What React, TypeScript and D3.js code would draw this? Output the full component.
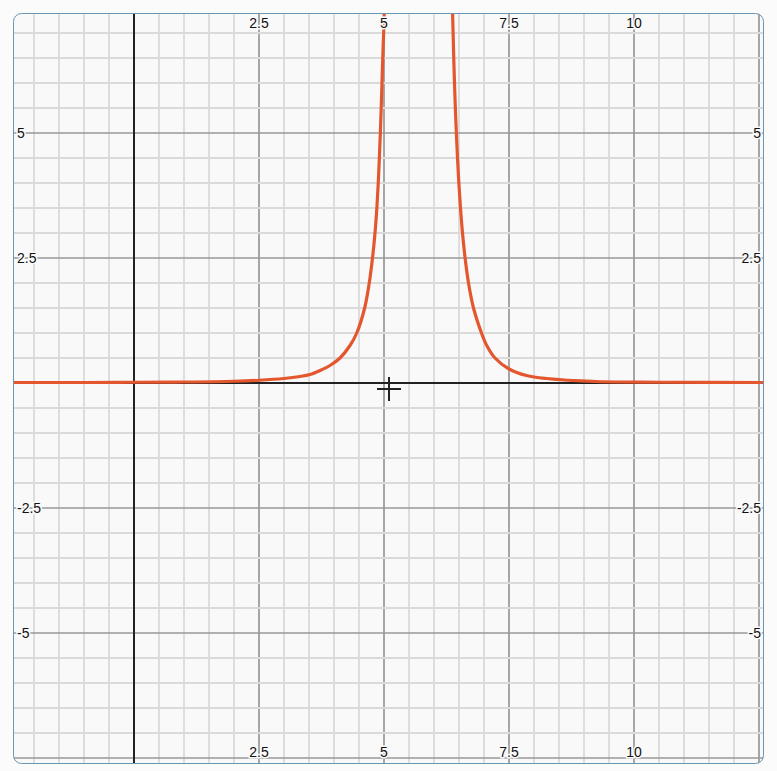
import React, { useEffect, useRef } from "react";
import * as d3 from "d3";

// curve points, left and right of the asymptote
const leftX = [-2.45, -1, 0, 1, 2, 2.5, 3.0, 3.32, 3.52, 3.72, 3.92, 4.12, 4.32, 4.455, 4.613, 4.705, 4.77, 4.82, 4.857, 4.885, 4.907, 4.927, 4.944, 4.96, 4.975, 4.993, 5.005, 5.02];
const leftY = [0.01, 0.01, 0.015, 0.02, 0.035, 0.055, 0.09, 0.13, 0.17, 0.25, 0.35, 0.5, 0.75, 1.0, 1.5, 2.0, 2.5, 3.0, 3.5, 4.0, 4.5, 5.0, 5.5, 6.0, 6.5, 7.0, 7.4, 8.0];
const rightX = [6.36, 6.372, 6.382, 6.395, 6.41, 6.427, 6.447, 6.47, 6.497, 6.53, 6.57, 6.622, 6.69, 6.79, 6.95, 7.055, 7.22, 7.5, 7.85, 8.25, 9.25, 10.5, 12.65];
const rightY = [8.0, 7.4, 7.0, 6.5, 6.0, 5.5, 5.0, 4.5, 4.0, 3.5, 3.0, 2.5, 2.0, 1.5, 1.0, 0.75, 0.5, 0.28, 0.15, 0.09, 0.03, 0.015, 0.01];

const xTicks = [2.5, 5, 7.5, 10];
const yTicks = [5, 2.5, -2.5, -5];
const cursor = [5.1, -0.12];

const W = 777;
const H = 771;
const box = { left: 13.5, top: 13.5, right: 763.5, bottom: 763.5 };

const App = () => {
  const ref = useRef<SVGSVGElement>(null);

  useEffect(() => {
    const svg = d3.select(ref.current);
    svg.selectAll("*").remove();

    const x = d3.scaleLinear().domain([0, 10]).range([134, 634]);
    const y = d3.scaleLinear().domain([0, 5]).range([383, 133]);
    const [x0, x1] = [x.invert(box.left), x.invert(box.right)];
    const [y0, y1] = [y.invert(box.bottom), y.invert(box.top)];

    svg.append("rect").attr("width", W).attr("height", H).attr("fill", "#fbfbfb");

    const defs = svg.append("defs");
    defs
      .append("clipPath")
      .attr("id", "plot")
      .append("rect")
      .attr("x", box.left)
      .attr("y", box.top)
      .attr("width", box.right - box.left)
      .attr("height", box.bottom - box.top)
      .attr("rx", 8);

    const g = svg.append("g").attr("clip-path", "url(#plot)");
    g.append("rect")
      .attr("x", box.left)
      .attr("y", box.top)
      .attr("width", box.right - box.left)
      .attr("height", box.bottom - box.top)
      .attr("fill", "#f9f9f9");

    // grid, every 0.5 with darker lines every 2.5
    const minorX = d3.range(Math.ceil(x0 * 2) / 2, x1, 0.5);
    const minorY = d3.range(Math.ceil(y0 * 2) / 2, y1, 0.5);
    const major = (d) => d % 2.5 === 0;
    g.selectAll(".mx")
      .data(minorX)
      .enter()
      .append("line")
      .attr("x1", (d) => x(d))
      .attr("x2", (d) => x(d))
      .attr("y1", box.top)
      .attr("y2", box.bottom)
      .attr("stroke", (d) => (major(d) ? "#989898" : "#dadada"))
      .attr("stroke-width", (d) => (major(d) ? 1.7 : 1.8));
    g.selectAll(".my")
      .data(minorY)
      .enter()
      .append("line")
      .attr("y1", (d) => y(d))
      .attr("y2", (d) => y(d))
      .attr("x1", box.left)
      .attr("x2", box.right)
      .attr("stroke", (d) => (major(d) ? "#989898" : "#dadada"))
      .attr("stroke-width", (d) => (major(d) ? 1.7 : 1.8));

    // axes
    g.append("line")
      .attr("x1", x(0))
      .attr("x2", x(0))
      .attr("y1", box.top)
      .attr("y2", box.bottom)
      .attr("stroke", "#222")
      .attr("stroke-width", 2);
    g.append("line")
      .attr("y1", y(0))
      .attr("y2", y(0))
      .attr("x1", box.left)
      .attr("x2", box.right)
      .attr("stroke", "#222")
      .attr("stroke-width", 2);

    // curve
    const line = d3
      .line<[number, number]>()
      .x((d) => x(d[0]))
      .y((d) => y(d[1]))
      .curve(d3.curveCatmullRom.alpha(0.5));
    const branches = [
      leftX.map((v, i) => [v, leftY[i]] as [number, number]),
      rightX.map((v, i) => [v, rightY[i]] as [number, number]),
    ];
    g.selectAll(".branch")
      .data(branches)
      .enter()
      .append("path")
      .attr("d", (d) => line(d))
      .attr("fill", "none")
      .attr("stroke", "#e4572e")
      .attr("stroke-width", 3.2)
      .attr("stroke-linejoin", "round");

    // tick labels
    const lab = (sel) =>
      sel
        .attr("font-family", "Liberation Sans, Arial, sans-serif")
        .attr("font-size", 14)
        .attr("fill", "#111")
        .attr("stroke", "#f9f9f9")
        .attr("stroke-width", 3)
        .attr("paint-order", "stroke")
        .text((d) => String(d));

    [28, 757].forEach((yy) => {
      g.selectAll(null)
        .data(xTicks)
        .enter()
        .append("text")
        .attr("x", (d) => x(d))
        .attr("y", yy)
        .attr("text-anchor", "middle")
        .call(lab);
    });
    g.selectAll(null)
      .data(yTicks)
      .enter()
      .append("text")
      .attr("x", 17)
      .attr("y", (d) => y(d) + 5)
      .attr("text-anchor", "start")
      .call(lab);
    g.selectAll(null)
      .data(yTicks)
      .enter()
      .append("text")
      .attr("x", 761)
      .attr("y", (d) => y(d) + 5)
      .attr("text-anchor", "end")
      .call(lab);

    // cursor cross
    const cx = x(cursor[0]);
    const cy = y(cursor[1]);
    g.append("path")
      .attr("d", `M${cx - 12},${cy}H${cx + 12}M${cx},${cy - 12}V${cy + 12}`)
      .attr("stroke", "#222")
      .attr("stroke-width", 2);

    // frame
    svg
      .append("rect")
      .attr("x", box.left)
      .attr("y", box.top)
      .attr("width", box.right - box.left)
      .attr("height", box.bottom - box.top)
      .attr("rx", 8)
      .attr("fill", "none")
      .attr("stroke", "#6b95b3")
      .attr("stroke-width", 1);
  }, []);

  return (
    <svg
      ref={ref}
      width={W}
      height={H}
      style={{ position: "absolute", left: 0, top: 0 }}
    />
  );
};

export default App;
